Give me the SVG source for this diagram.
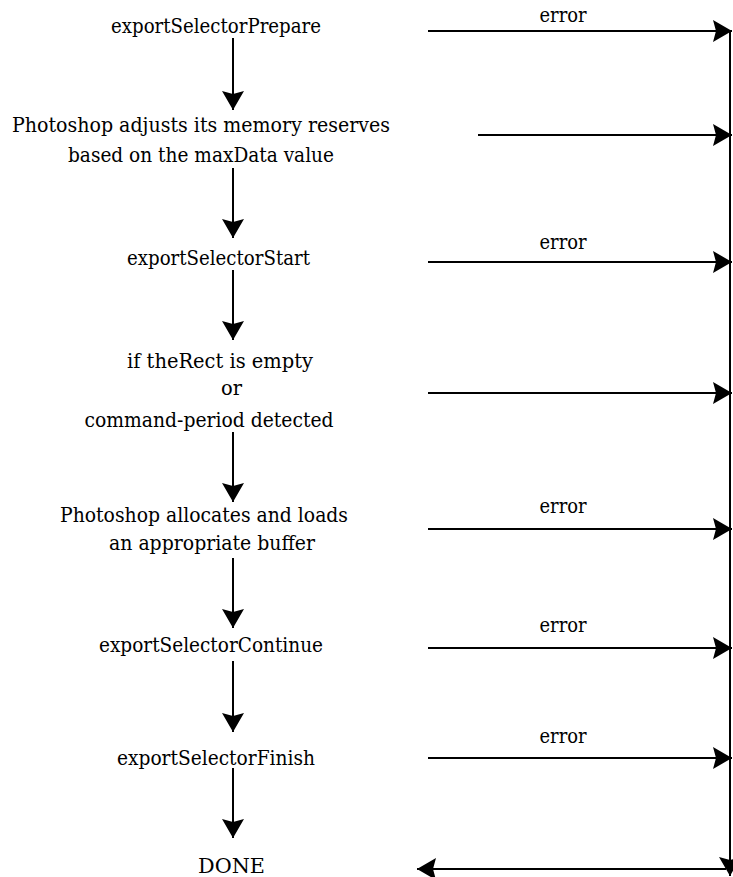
<svg xmlns="http://www.w3.org/2000/svg" width="733" height="877" viewBox="0 0 733 877">
<style>
text{font-family:"DejaVu Serif","Liberation Serif",serif;font-size:21px;fill:#000;text-anchor:middle}
.c{stroke:#000;stroke-width:2;fill:none;marker-end:url(#ah)}
</style>
<defs>
<marker id="ah" markerUnits="userSpaceOnUse" viewBox="-20 -12 21 24" markerWidth="21" markerHeight="24" refX="0" refY="0" orient="auto">
<path d="M0,0 L-19,-11 L-16,0 L-19,11 Z" fill="#000"/>
</marker>
</defs>
<rect width="733" height="877" fill="#fff"/>
<g id="n1"><text x="216" y="33" textLength="210" lengthAdjust="spacingAndGlyphs">exportSelectorPrepare</text></g>
<g id="n2"><text x="201" y="132" textLength="378" lengthAdjust="spacingAndGlyphs">Photoshop adjusts its memory reserves</text><text x="201" y="162" textLength="266" lengthAdjust="spacingAndGlyphs">based on the maxData value</text></g>
<g id="n3"><text x="218.5" y="265" textLength="183" lengthAdjust="spacingAndGlyphs">exportSelectorStart</text></g>
<g id="n4"><text x="220" y="368" textLength="186" lengthAdjust="spacingAndGlyphs">if theRect is empty</text><text x="231.5" y="395" textLength="21" lengthAdjust="spacingAndGlyphs">or</text><text x="209" y="427" textLength="249" lengthAdjust="spacingAndGlyphs">command-period detected</text></g>
<g id="n5"><text x="204" y="522" textLength="288" lengthAdjust="spacingAndGlyphs">Photoshop allocates and loads</text><text x="212" y="550" textLength="206" lengthAdjust="spacingAndGlyphs">an appropriate buffer</text></g>
<g id="n6"><text x="211" y="652" textLength="224" lengthAdjust="spacingAndGlyphs">exportSelectorContinue</text></g>
<g id="n7"><text x="216" y="765" textLength="198" lengthAdjust="spacingAndGlyphs">exportSelectorFinish</text></g>
<g id="n8"><text x="231.5" y="873" textLength="67" lengthAdjust="spacingAndGlyphs">DONE</text></g>
<g id="connectors">
<line class="c" x1="233" y1="38" x2="233" y2="110"/>
<line class="c" x1="233" y1="168" x2="233" y2="238"/>
<line class="c" x1="233" y1="270" x2="233" y2="340"/>
<line class="c" x1="233" y1="432" x2="233" y2="502"/>
<line class="c" x1="233" y1="558" x2="233" y2="628"/>
<line class="c" x1="233" y1="661" x2="233" y2="732"/>
<line class="c" x1="233" y1="768" x2="233" y2="838"/>
<line class="c" x1="428" y1="31" x2="732" y2="31"/>
<line class="c" x1="478" y1="135" x2="732" y2="135"/>
<line class="c" x1="428" y1="262" x2="732" y2="262"/>
<line class="c" x1="428" y1="393" x2="732" y2="393"/>
<line class="c" x1="428" y1="529" x2="732" y2="529"/>
<line class="c" x1="428" y1="648" x2="732" y2="648"/>
<line class="c" x1="428" y1="758" x2="732" y2="758"/>
<line class="c" x1="730" y1="31" x2="730" y2="876"/>
<line class="c" x1="726" y1="869" x2="417" y2="869"/>
<text x="563" y="22" textLength="47" lengthAdjust="spacingAndGlyphs">error</text>
<text x="563" y="249" textLength="47" lengthAdjust="spacingAndGlyphs">error</text>
<text x="563" y="513" textLength="47" lengthAdjust="spacingAndGlyphs">error</text>
<text x="563" y="632" textLength="47" lengthAdjust="spacingAndGlyphs">error</text>
<text x="563" y="743" textLength="47" lengthAdjust="spacingAndGlyphs">error</text>
</g>
</svg>
